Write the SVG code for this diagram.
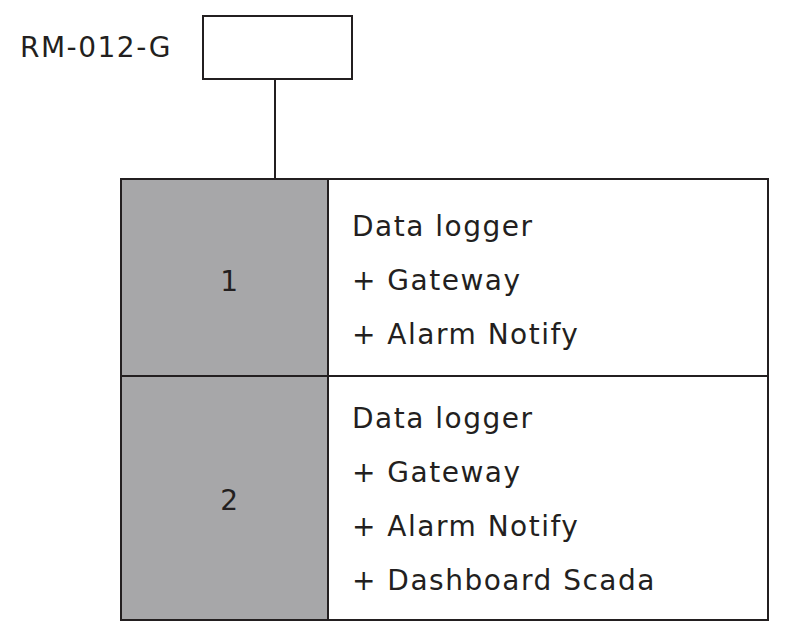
<svg xmlns="http://www.w3.org/2000/svg" width="795" height="638" viewBox="0 0 795 638">
<style>
.b{fill:#fff;stroke:#231f20;stroke-width:2}
.g{fill:#a7a7a9;stroke:#231f20;stroke-width:2}
text{font-family:"DejaVu Sans",sans-serif;font-size:28px;letter-spacing:1.5px;fill:#231f20}
.c{text-anchor:middle}
</style>
<rect width="795" height="638" fill="#fff"/>
<g id="rm012g"><rect class="b" x="203" y="16" width="149" height="63"/><text x="20" y="57">RM-012-G</text></g>
<g id="connectors"><line x1="275" y1="79" x2="275" y2="179" stroke="#231f20" stroke-width="2"/></g>
<g id="row1">
<rect class="g" x="121" y="179" width="207" height="197"/>
<rect class="b" x="328" y="179" width="440" height="197"/>
<text class="c" x="230" y="291">1</text>
<text x="352" y="236">Data logger</text>
<text x="352" y="290">+ Gateway</text>
<text x="352" y="344">+ Alarm Notify</text>
</g>
<g id="row2">
<rect class="g" x="121" y="376" width="207" height="244"/>
<rect class="b" x="328" y="376" width="440" height="244"/>
<text class="c" x="230" y="510">2</text>
<text x="352" y="428">Data logger</text>
<text x="352" y="482">+ Gateway</text>
<text x="352" y="536">+ Alarm Notify</text>
<text x="352" y="590">+ Dashboard Scada</text>
</g>
</svg>
